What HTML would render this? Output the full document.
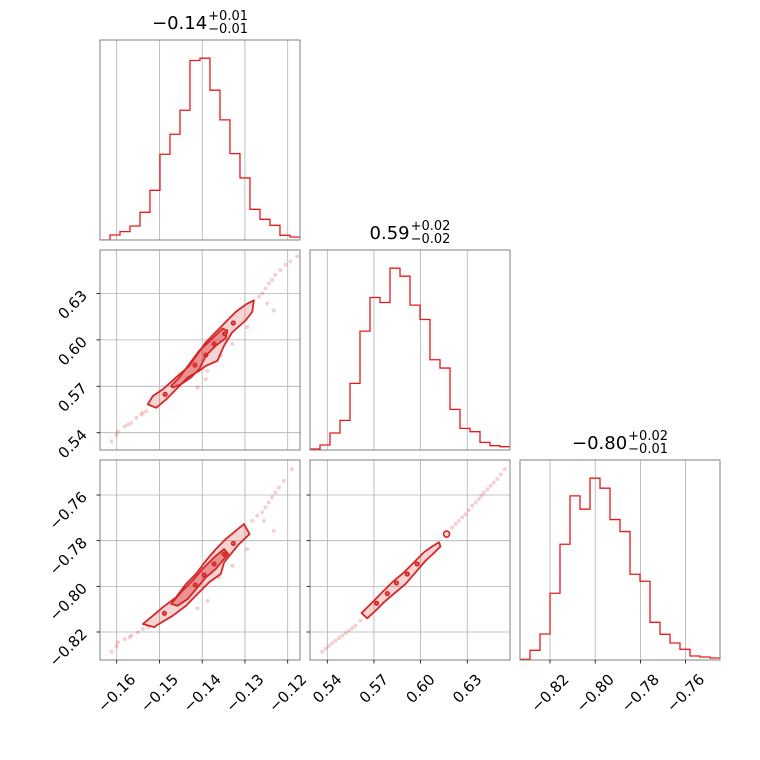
<!DOCTYPE html>
<html><head><meta charset="utf-8"><style>
html,body{margin:0;padding:0;background:#fff;}
svg{display:block;font-family:"DejaVu Sans","Liberation Sans",sans-serif;}
</style></head><body>
<svg id="fig" width="760" height="760" viewBox="0 0 760 760"></svg>
<script>
// ---------- data ----------
const hist0Counts=[0,15,25,42,83,149,257,317,389,538,545,449,360,259,186,92,62,44,14,9];
const hist1Counts=[3,15,51,89,200,357,458,443,546,522,435,392,271,246,122,65,55,23,13,10];
const hist2Counts=[2,29,78,200,347,492,452,545,515,421,385,257,236,113,77,51,32,12,9,6];
const hist0Range=[-0.16391,-0.11713];
const hist1Range=[0.52888,0.65749];
const hist2Range=[-0.83327,-0.74478];

const p0Ticks=[-0.16,-0.15,-0.14,-0.13,-0.12];
const p0Labels=["−0.16","−0.15","−0.14","−0.13","−0.12"];
const p1Ticks=[0.54,0.57,0.60,0.63];
const p1Labels=["0.54","0.57","0.60","0.63"];
const p2Ticks=[-0.82,-0.80,-0.78,-0.76];
const p2Labels=["−0.82","−0.80","−0.78","−0.76"];

const titles=[["−0.14","+0.01","−0.01"],["0.59","+0.02","−0.02"],["−0.80","+0.02","−0.01"]];

// panel (1,0): p0 vs p1
const c10OuterX=[-0.15272,-0.15156,-0.14923,-0.14612,-0.14302,-0.13914,-0.13605,-0.13216,-0.12984,-0.12791,-0.12830,-0.12984,-0.13295,-0.13488,-0.13644,-0.13914,-0.14070,-0.14342,-0.14612,-0.14844,-0.15077];
const c10OuterY=[0.5583,0.5637,0.5680,0.5757,0.5832,0.5985,0.6072,0.6181,0.6228,0.6256,0.6181,0.6126,0.6050,0.5963,0.5865,0.5832,0.5800,0.5757,0.5680,0.5615,0.5561];
const c10InnerX=[-0.14728,-0.14535,-0.14302,-0.14070,-0.13837,-0.13528,-0.13412,-0.13449,-0.13681,-0.13914,-0.14070,-0.14263,-0.14495,-0.14691];
const c10InnerY=[0.5702,0.5757,0.5843,0.5930,0.5989,0.6072,0.6061,0.6011,0.5963,0.5898,0.5811,0.5757,0.5713,0.5692];
const c10PeakX=[-0.14867,-0.14170,-0.13914,-0.13721,-0.13472,-0.13272];
const c10PeakY=[0.5648,0.5837,0.5902,0.5974,0.6039,0.6109];
const s10X=[-0.16123,-0.15970,-0.15814,-0.15658,-0.15542,-0.15426,-0.15309,-0.16007,-0.15737,-0.15388,-0.12674,-0.12598,-0.12519,-0.12442,-0.12365,-0.12288,-0.12170,-0.12053,-0.11937,-0.11781,-0.12481,-0.12326,-0.12947,-0.13295,-0.13567,-0.13877,-0.13914,-0.14109];
const s10Y=[0.5343,0.5408,0.5441,0.5463,0.5496,0.5517,0.5539,0.5387,0.5452,0.5528,0.6279,0.6300,0.6333,0.6366,0.6387,0.6420,0.6452,0.6485,0.6507,0.6540,0.6235,0.6191,0.6083,0.5974,0.5898,0.5800,0.5746,0.5692];

// panel (2,0): p0 vs p2
const c20OuterX=[-0.15388,-0.15156,-0.14923,-0.14612,-0.14379,-0.14147,-0.13914,-0.13681,-0.13449,-0.13216,-0.13023,-0.12891,-0.13140,-0.13333,-0.13488,-0.13565,-0.13837,-0.14070,-0.14379,-0.14691,-0.15077,-0.15116];
const c20OuterY=[-0.8165,-0.8129,-0.8092,-0.8048,-0.7990,-0.7946,-0.7888,-0.7837,-0.7793,-0.7757,-0.7727,-0.7771,-0.7815,-0.7859,-0.7895,-0.7946,-0.7982,-0.8026,-0.8085,-0.8129,-0.8172,-0.8179];
const c20InnerX=[-0.14728,-0.14495,-0.14226,-0.13993,-0.13721,-0.13488,-0.13388,-0.13528,-0.13681,-0.13914,-0.14109,-0.14342,-0.14574];
const c20InnerY=[-0.8077,-0.8026,-0.7975,-0.7924,-0.7873,-0.7837,-0.7859,-0.7888,-0.7924,-0.7961,-0.8004,-0.8056,-0.8085];
const c20PeakX=[-0.14884,-0.14163,-0.13953,-0.13721,-0.13488,-0.13272];
const c20PeakY=[-0.8118,-0.7994,-0.7951,-0.7902,-0.7859,-0.7812];
const s20X=[-0.16123,-0.15970,-0.15814,-0.15658,-0.15505,-0.15388,-0.15272,-0.16007,-0.15698,-0.12830,-0.12714,-0.12598,-0.12519,-0.12442,-0.12365,-0.12286,-0.12209,-0.12093,-0.11900,-0.12558,-0.12326,-0.12947,-0.13295,-0.13605,-0.13877,-0.14109];
const s20Y=[-0.8286,-0.8245,-0.8231,-0.8216,-0.8201,-0.8187,-0.8179,-0.8263,-0.8223,-0.7713,-0.7691,-0.7676,-0.7654,-0.7633,-0.7611,-0.7589,-0.7567,-0.7538,-0.7487,-0.7713,-0.7757,-0.7837,-0.7910,-0.7961,-0.8063,-0.8096];

// panel (2,1): p1 vs p2
const c21OuterX=[0.5620,0.5657,0.5700,0.5753,0.5818,0.5893,0.5957,0.6021,0.6075,0.6118,0.6128,0.6086,0.6032,0.5967,0.5903,0.5839,0.5764,0.5710,0.5657];
const c21OuterY=[-0.8117,-0.8092,-0.8063,-0.8026,-0.7982,-0.7939,-0.7895,-0.7851,-0.7825,-0.7807,-0.7825,-0.7854,-0.7888,-0.7939,-0.7990,-0.8026,-0.8070,-0.8107,-0.8140];
const c21PeakX=[0.5717,0.5786,0.5845,0.5914,0.5978];
const c21PeakY=[-0.8074,-0.8032,-0.7985,-0.7946,-0.7902];
const c21RingX=[0.6167];
const c21RingY=[-0.7771];
const s21X=[0.5368,0.5411,0.5453,0.5496,0.5539,0.5582,0.5614,0.5390,0.5432,0.5475,0.5518,0.5560,0.6203,0.6246,0.6289,0.6332,0.6375,0.6407,0.6450,0.6493,0.6542,0.6225,0.6268,0.6310,0.6353,0.6390,0.6430,0.6470,0.6515];
const s21Y=[-0.8286,-0.8260,-0.8238,-0.8216,-0.8194,-0.8172,-0.8150,-0.8273,-0.8249,-0.8227,-0.8205,-0.8183,-0.7742,-0.7713,-0.7684,-0.7647,-0.7618,-0.7589,-0.7560,-0.7530,-0.7487,-0.7727,-0.7698,-0.7666,-0.7632,-0.7603,-0.7575,-0.7545,-0.7510];

// ---------- axes ----------
const X0=v=>116.7+(v+0.16)*4275;
const X1=v=>327.3+(v-0.54)*1555;
const X2=v=>550+(v+0.82)*2260;
const Y1=v=>432.7-(v-0.54)*1547;
const Y2=v=>632-(v+0.82)*2283;
const PX=[100,310,520], PY=[40,250,460], S=200;

const NS="http://www.w3.org/2000/svg";
const svg=document.getElementById('fig');
function mk(tag,attrs,parent){const e=document.createElementNS(NS,tag);for(const k in attrs)e.setAttribute(k,attrs[k]);(parent||svg).appendChild(e);return e;}

function panel(r,c,name){
  const g=mk('g',{});
  
  
  const cp=mk('clipPath',{id:'clip'+r+c},g);
  mk('rect',{x:PX[c],y:PY[r],width:S,height:S},cp);
  return g;
}
function grid(g,r,c,xt,xf,yt,yf){
  xt.forEach(v=>{const l=mk('line',{x1:xf(v),x2:xf(v),y1:PY[r],y2:PY[r]+S,stroke:'#b0b0b0','stroke-width':0.8},g);
    
    });
  if(yt) yt.forEach(v=>{const l=mk('line',{x1:PX[c],x2:PX[c]+S,y1:yf(v),y2:yf(v),stroke:'#b0b0b0','stroke-width':0.8},g);
    
    });
}
function frame(g,r,c){
  const f=mk('rect',{x:PX[c],y:PY[r],width:S,height:S,fill:'none',stroke:'#808080','stroke-width':1},g);
  
  
}
function hist(g,r,c,counts,range,name){
  const mx=Math.max(...counts)*1.1, n=counts.length, w=(range[1]-range[0])/n;
  const xf=[X0,X1,X2][c];
  const yb=PY[r]+S;
  let d='M'+xf(range[0])+','+yb;
  counts.forEach((v,i)=>{const y=yb-v/mx*S;d+=' L'+xf(range[0]+i*w)+','+y+' L'+xf(range[0]+(i+1)*w)+','+y;});
  const p=mk('path',{d:d,fill:'none',stroke:'#e8191c','stroke-width':1.3,'clip-path':'url(#clip'+r+c+')'},g);
  
  
}
function poly(g,r,c,xs,ys,xf,yf,fill,name){
  const pts=xs.map((x,i)=>xf(x)+','+yf(ys[i])).join(' ');
  const p=mk('polygon',{points:pts,fill:fill,stroke:'#d62728','stroke-width':1.8,'stroke-linejoin':'round','clip-path':'url(#clip'+r+c+')'},g);
  
  
}
function dots(g,r,c,xs,ys,xf,yf,rad,fill,name,stroke){
  xs.forEach((x,i)=>{const e=mk('circle',{cx:xf(x),cy:yf(ys[i]),r:rad,fill:fill,'clip-path':'url(#clip'+r+c+')'},g);
    if(stroke){e.setAttribute('stroke',stroke);e.setAttribute('stroke-width',1.6);}
    
    });
}
function xticks(g,r,c,ticks,labels,xf,withLabels){
  const yb=PY[r]+S;
  ticks.forEach((v,i)=>{const x=xf(v);
    const t=mk('line',{x1:x,x2:x,y1:yb,y2:yb+3.5,stroke:'#000','stroke-width':0.8},g);
    
    
    if(withLabels){
      const tx=mk('text',{'font-size':15,'text-anchor':'middle','dominant-baseline':'central',fill:'#000'},g);
      tx.textContent=labels[i];
      const L=tx.getComputedTextLength();
      const half=(L+11)*0.707/2;
      const cx=x, cy=yb+13+half;
      tx.setAttribute('x',cx);tx.setAttribute('y',cy);
      tx.setAttribute('transform','rotate(-45 '+cx+' '+cy+')');
      
      
    }});
}
function yticks(g,r,c,ticks,labels,yf,withLabels){
  const xl=PX[c];
  ticks.forEach((v,i)=>{const y=yf(v);
    const t=mk('line',{x1:xl-3.5,x2:xl,y1:y,y2:y,stroke:'#000','stroke-width':0.8},g);
    
    
    if(withLabels){
      const ax=88, ay=y+3;
      const tx=mk('text',{x:ax,y:ay,'font-size':15,'text-anchor':'end',fill:'#000',transform:'rotate(-45 '+ax+' '+ay+')'},g);
      tx.textContent=labels[i];
      
      
    }});
}
function title(i){
  const cx=PX[i]+S/2, by=PY[i]-11;
  const g=mk('g',{});
  
  
  const t=mk('text',{x:0,y:by,'font-size':18,fill:'#000'},g);
  t.textContent=titles[i][0];
  const w=t.getComputedTextLength();
  const sp=mk('text',{x:w+1,y:by-9,'font-size':13,fill:'#000'},g);
  sp.textContent=titles[i][1];
  const sb=mk('text',{x:w+1,y:by+4,'font-size':13,fill:'#000'},g);
  sb.textContent=titles[i][2];
  const tw=w+1+Math.max(sp.getComputedTextLength(),sb.getComputedTextLength());
  g.setAttribute('transform','translate('+(cx-tw/2)+',0)');
}

const LIGHT='rgba(214,39,40,0.2)', DARK='rgba(214,39,40,0.38)', PT='rgba(214,39,40,0.22)';

// panel 0,0
let g=panel(0,0,'hist-param-0');
grid(g,0,0,p0Ticks,X0,null,null);
hist(g,0,0,hist0Counts,hist0Range,'hist-0-step');
frame(g,0,0);

// panel 1,0
g=panel(1,0,'scatter-p0-p1');
grid(g,1,0,p0Ticks,X0,p1Ticks,Y1);
dots(g,1,0,s10X,s10Y,X0,Y1,2,PT,'sample-point');
poly(g,1,0,c10OuterX,c10OuterY,X0,Y1,LIGHT,'contour-outer');
poly(g,1,0,c10InnerX,c10InnerY,X0,Y1,DARK,'contour-inner');
dots(g,1,0,c10PeakX,c10PeakY,X0,Y1,1.8,'rgba(214,39,40,0.6)','contour-peak','#d62728');
frame(g,1,0);
yticks(g,1,0,p1Ticks,p1Labels,Y1,true);

// panel 1,1
g=panel(1,1,'hist-param-1');
grid(g,1,1,p1Ticks,X1,null,null);
hist(g,1,1,hist1Counts,hist1Range,'hist-1-step');
frame(g,1,1);

// panel 2,0
g=panel(2,0,'scatter-p0-p2');
grid(g,2,0,p0Ticks,X0,p2Ticks,Y2);
dots(g,2,0,s20X,s20Y,X0,Y2,2,PT,'sample-point');
poly(g,2,0,c20OuterX,c20OuterY,X0,Y2,LIGHT,'contour-outer');
poly(g,2,0,c20InnerX,c20InnerY,X0,Y2,DARK,'contour-inner');
dots(g,2,0,c20PeakX,c20PeakY,X0,Y2,1.8,'rgba(214,39,40,0.6)','contour-peak','#d62728');
frame(g,2,0);
yticks(g,2,0,p2Ticks,p2Labels,Y2,true);
xticks(g,2,0,p0Ticks,p0Labels,X0,true);

// panel 2,1
g=panel(2,1,'scatter-p1-p2');
grid(g,2,1,p1Ticks,X1,p2Ticks,Y2);
dots(g,2,1,s21X,s21Y,X1,Y2,2,PT,'sample-point');
poly(g,2,1,c21OuterX,c21OuterY,X1,Y2,LIGHT,'contour-outer');
dots(g,2,1,c21PeakX,c21PeakY,X1,Y2,1.8,'rgba(214,39,40,0.6)','contour-peak','#d62728');
dots(g,2,1,c21RingX,c21RingY,X1,Y2,3,'rgba(214,39,40,0.15)','contour-ring','#d62728');
frame(g,2,1);
yticks(g,2,1,p2Ticks,p2Labels,Y2,false);
xticks(g,2,1,p1Ticks,p1Labels,X1,true);

// panel 2,2
g=panel(2,2,'hist-param-2');
grid(g,2,2,p2Ticks,X2,null,null);
hist(g,2,2,hist2Counts,hist2Range,'hist-2-step');
frame(g,2,2);
xticks(g,2,2,p2Ticks,p2Labels,X2,true);

title(0);title(1);title(2);
</script>
</body></html>
